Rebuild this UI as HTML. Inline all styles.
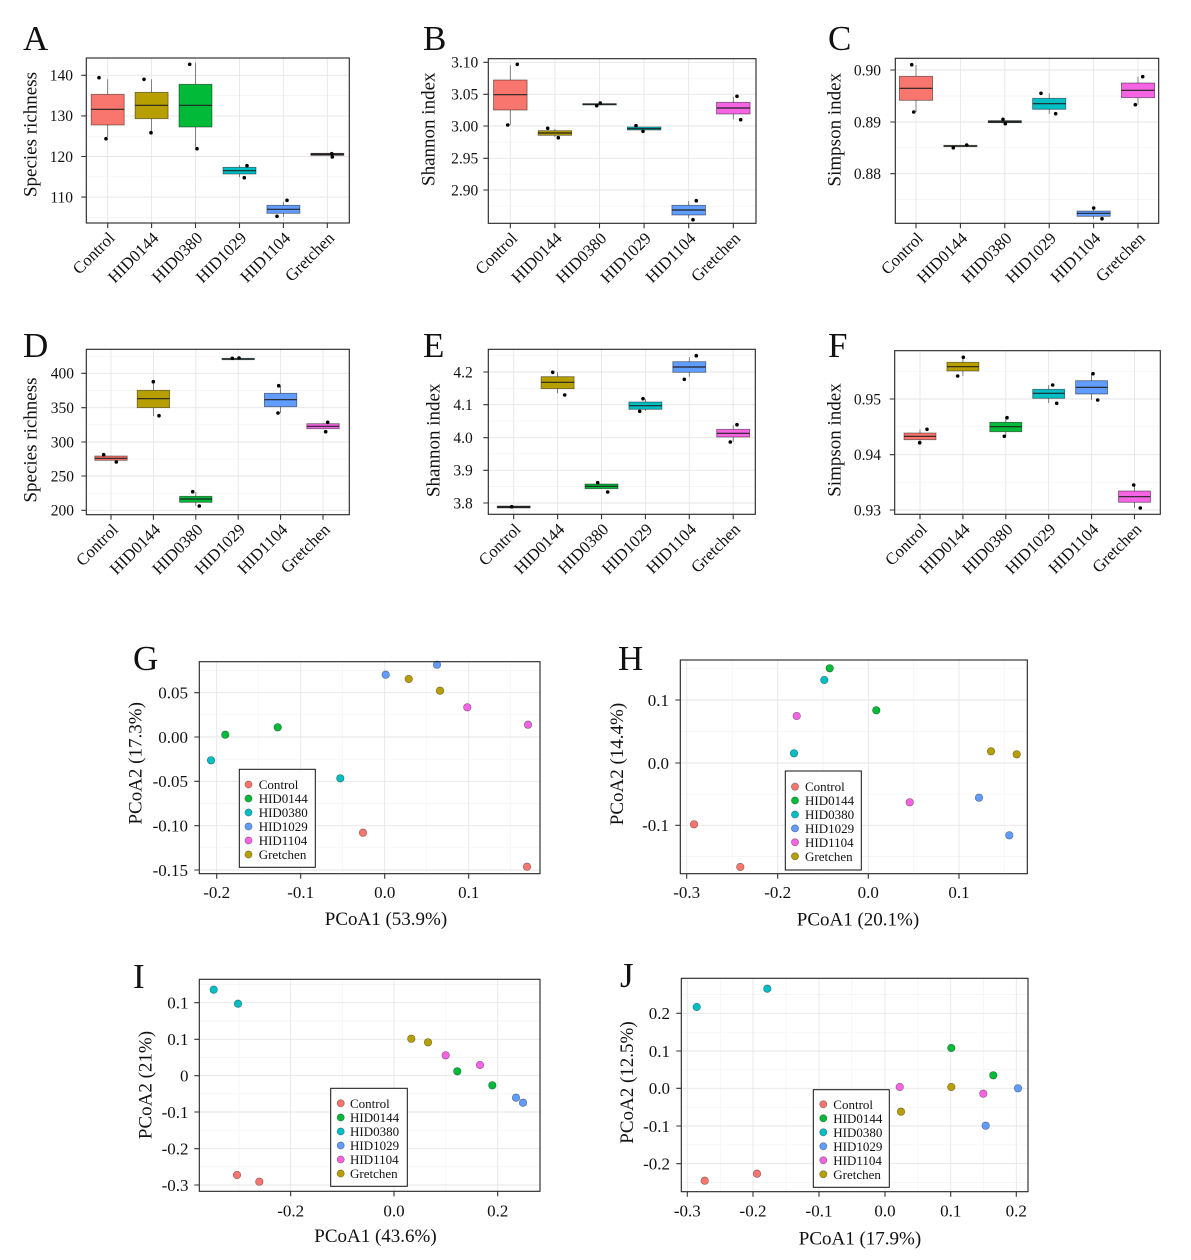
<!DOCTYPE html>
<html><head><meta charset="utf-8"><style>
html,body{margin:0;padding:0;background:#fff}
svg{display:block}
text{font-family:"Liberation Serif","Times New Roman",serif;fill:#111}
.mj{stroke:#e6e6e6;stroke-width:0.9;fill:none}
.mn{stroke:#f3f3f3;stroke-width:0.7;fill:none}
.bd{fill:none;stroke:#222;stroke-width:1.1}
.tk{stroke:#333;stroke-width:1.1;fill:none}
.yt{font-size:15.5px;text-anchor:end}
.xl{font-size:16.8px;text-anchor:end}
.ti{font-size:19px;text-anchor:middle}
.lab{font-size:35px}
.wh{stroke:#666;stroke-width:0.8;fill:none}
.bx{stroke:rgba(0,0,0,0.5);stroke-width:0.8}
.md{stroke:#222;stroke-width:1.2}
.sc{stroke:rgba(0,0,0,0.45);stroke-width:0.6}
.lg{font-size:13px}
.pyt{font-size:17px;text-anchor:end}
.pxt{font-size:17px;text-anchor:middle}
</style></head><body>
<svg width="1191" height="1260" viewBox="0 0 1191 1260" xmlns="http://www.w3.org/2000/svg">
<rect width="1191" height="1260" fill="#fff"/>

<!-- ================= A ================= -->
<path class="mn" d="M86.3 95.6H349.3M86.3 136.2H349.3M86.3 176.8H349.3M86.3 217.4H349.3"/>
<path class="mj" d="M86.3 75.3H349.3M86.3 115.9H349.3M86.3 156.5H349.3M86.3 197.1H349.3M107.7 58V223M151.6 58V223M195.5 58V223M239.5 58V223M283.4 58V223M327.3 58V223"/>
<path class="wh" d="M107.7 79.3V94.3M107.7 125V137M151.6 79.3V92.3M151.6 118.7V131M195.5 62.7V84.3M195.5 127V147M239.5 165V167.3M239.5 174V177M283.4 201.7V205.3M283.4 213.3V217"/>
<rect class="bx" x="91.2" y="94.3" width="33" height="30.7" fill="#F8766D"/>
<rect class="bx" x="135.1" y="92.3" width="33" height="26.4" fill="#B79F00"/>
<rect class="bx" x="179" y="84.3" width="33" height="42.7" fill="#00BA38"/>
<rect class="bx" x="223" y="167.3" width="33" height="6.7" fill="#00BFC4"/>
<rect class="bx" x="266.9" y="205.3" width="33" height="8" fill="#619CFF"/>
<rect class="bx" x="310.8" y="153.3" width="33" height="2" fill="#F564E3"/>
<path class="md" d="M91.2 109.3H124.2M135.1 105.3H168.1M179 105.3H212M223 170.7H256M266.9 209.3H299.9"/>
<path stroke="#222" stroke-width="2.2" d="M310.8 154.3H343.8"/>
<g fill="#000"><circle cx="99" cy="77.7" r="1.8"/><circle cx="106" cy="138.7" r="1.8"/><circle cx="144" cy="79.3" r="1.8"/><circle cx="151" cy="132.7" r="1.8"/><circle cx="189.7" cy="64.3" r="1.8"/><circle cx="197" cy="148.7" r="1.8"/><circle cx="247" cy="165.7" r="1.8"/><circle cx="244.3" cy="177.7" r="1.8"/><circle cx="287" cy="200.3" r="1.8"/><circle cx="277" cy="216.3" r="1.8"/><circle cx="331.7" cy="153.7" r="1.8"/><circle cx="332.3" cy="157" r="1.8"/></g>
<rect class="bd" x="86.3" y="58" width="263" height="165"/>
<path class="tk" d="M81.3 75.3H86.3M81.3 115.9H86.3M81.3 156.5H86.3M81.3 197.1H86.3M107.7 223V228M151.6 223V228M195.5 223V228M239.5 223V228M283.4 223V228M327.3 223V228"/>
<text class="yt" x="73" y="80.6">140</text><text class="yt" x="73" y="121.2">130</text><text class="yt" x="73" y="161.8">120</text><text class="yt" x="73" y="202.4">110</text>
<text class="xl" x="115.7" y="239" transform="rotate(-45 115.7 239)">Control</text>
<text class="xl" x="159.6" y="239" transform="rotate(-45 159.6 239)">HID0144</text>
<text class="xl" x="203.5" y="239" transform="rotate(-45 203.5 239)">HID0380</text>
<text class="xl" x="247.5" y="239" transform="rotate(-45 247.5 239)">HID1029</text>
<text class="xl" x="291.4" y="239" transform="rotate(-45 291.4 239)">HID1104</text>
<text class="xl" x="335.3" y="239" transform="rotate(-45 335.3 239)">Gretchen</text>
<text class="ti" x="36.5" y="134.5" transform="rotate(-90 36.5 134.5)">Species richness</text>
<text class="lab" x="23" y="50">A</text>

<!-- ================= B ================= -->
<path class="mn" d="M488.3 78.3H756M488.3 110.2H756M488.3 142.1H756M488.3 174.1H756M488.3 206H756"/>
<path class="mj" d="M488.3 62.3H756M488.3 94.3H756M488.3 126H756M488.3 158.3H756M488.3 190H756M510.3 58.7V223.3M554.9 58.7V223.3M599.5 58.7V223.3M644.1 58.7V223.3M688.7 58.7V223.3M733.3 58.7V223.3"/>
<path class="wh" d="M510.3 65.3V80M510.3 110V125M554.9 129V130.7M554.9 135.3V137M688.7 201V205.3M688.7 215V218.3M733.3 96.7V102.3M733.3 114V119.3"/>
<rect class="bx" x="493.5" y="80" width="33.6" height="30" fill="#F8766D"/>
<rect class="bx" x="538.1" y="130.7" width="33.6" height="4.6" fill="#B79F00"/>
<rect class="bx" x="582.7" y="103.6" width="33.6" height="1.4" fill="#00BA38"/>
<rect class="bx" x="627.3" y="127" width="33.6" height="3" fill="#00BFC4" stroke="#2a5a5a"/>
<rect class="bx" x="671.9" y="205.3" width="33.6" height="9.7" fill="#619CFF"/>
<rect class="bx" x="716.5" y="102.3" width="33.6" height="11.7" fill="#F564E3"/>
<path class="md" d="M493.5 94.7H527.1M538.1 133H571.7M582.7 104.3H616.3M627.3 128.7H660.9M671.9 210H705.5M716.5 108H750.1"/>
<g fill="#000"><circle cx="517.3" cy="64.3" r="1.8"/><circle cx="507.7" cy="125" r="1.8"/><circle cx="547.7" cy="128.3" r="1.8"/><circle cx="558.3" cy="137.7" r="1.8"/><circle cx="596.7" cy="105.7" r="1.8"/><circle cx="600.3" cy="103" r="1.8"/><circle cx="636" cy="125.7" r="1.8"/><circle cx="643" cy="131.3" r="1.8"/><circle cx="696.3" cy="200.7" r="1.8"/><circle cx="693" cy="219.7" r="1.8"/><circle cx="737" cy="96.3" r="1.8"/><circle cx="740.7" cy="119.7" r="1.8"/></g>
<rect class="bd" x="488.3" y="58.7" width="267.7" height="164.6"/>
<path class="tk" d="M483.3 62.3H488.3M483.3 94.3H488.3M483.3 126H488.3M483.3 158.3H488.3M483.3 190H488.3M510.3 223.3V228.3M554.9 223.3V228.3M599.5 223.3V228.3M644.1 223.3V228.3M688.7 223.3V228.3M733.3 223.3V228.3"/>
<text class="yt" x="478.3" y="67.6">3.10</text><text class="yt" x="478.3" y="99.6">3.05</text><text class="yt" x="478.3" y="131.3">3.00</text><text class="yt" x="478.3" y="163.6">2.95</text><text class="yt" x="478.3" y="195.3">2.90</text>
<text class="xl" x="518.3" y="239.3" transform="rotate(-45 518.3 239.3)">Control</text>
<text class="xl" x="562.9" y="239.3" transform="rotate(-45 562.9 239.3)">HID0144</text>
<text class="xl" x="607.5" y="239.3" transform="rotate(-45 607.5 239.3)">HID0380</text>
<text class="xl" x="652.1" y="239.3" transform="rotate(-45 652.1 239.3)">HID1029</text>
<text class="xl" x="696.7" y="239.3" transform="rotate(-45 696.7 239.3)">HID1104</text>
<text class="xl" x="741.3" y="239.3" transform="rotate(-45 741.3 239.3)">Gretchen</text>
<text class="ti" x="434.7" y="129.2" transform="rotate(-90 434.7 129.2)">Shannon index</text>
<text class="lab" x="423" y="50">B</text>

<!-- ================= C ================= -->
<path class="mn" d="M895.3 96H1158.7M895.3 147.8H1158.7M895.3 199.6H1158.7"/>
<path class="mj" d="M895.3 70H1158.7M895.3 122H1158.7M895.3 173.7H1158.7M916 58.3V223.3M960.4 58.3V223.3M1004.8 58.3V223.3M1049.2 58.3V223.3M1093.6 58.3V223.3M1138 58.3V223.3"/>
<path class="wh" d="M916 65V76.3M916 100.3V112M1049.2 93.3V98.3M1049.2 109.3V114M1093.6 208V211M1093.6 216.3V218.7M1138 76.7V83M1138 97.7V104.7"/>
<rect class="bx" x="899.4" y="76.3" width="33.2" height="24" fill="#F8766D"/>
<rect class="bx" x="943.8" y="145.3" width="33.2" height="1.4" fill="#B79F00"/>
<rect class="bx" x="988.2" y="120.7" width="33.2" height="2" fill="#00BA38"/>
<rect class="bx" x="1032.6" y="98.3" width="33.2" height="11" fill="#00BFC4"/>
<rect class="bx" x="1077" y="211" width="33.2" height="5.3" fill="#619CFF"/>
<rect class="bx" x="1121.4" y="83" width="33.2" height="14.7" fill="#F564E3"/>
<path class="md" d="M899.4 88.3H932.6M943.8 146H977M1032.6 103.7H1065.8M1077 213.3H1110.2M1121.4 90.3H1154.6"/>
<path stroke="#222" stroke-width="2.2" d="M988.2 121.7H1021.4"/>
<g fill="#000"><circle cx="911.7" cy="64.7" r="1.8"/><circle cx="913.7" cy="112" r="1.8"/><circle cx="953.3" cy="147.7" r="1.8"/><circle cx="966.7" cy="145" r="1.8"/><circle cx="1003" cy="119.3" r="1.8"/><circle cx="1005.3" cy="123.7" r="1.8"/><circle cx="1041" cy="93.3" r="1.8"/><circle cx="1055.7" cy="113.7" r="1.8"/><circle cx="1093.7" cy="208" r="1.8"/><circle cx="1102" cy="218.7" r="1.8"/><circle cx="1142.7" cy="76.7" r="1.8"/><circle cx="1135.3" cy="104.7" r="1.8"/></g>
<rect class="bd" x="895.3" y="58.3" width="263.4" height="165"/>
<path class="tk" d="M890.3 70H895.3M890.3 122H895.3M890.3 173.7H895.3M916 223.3V228.3M960.4 223.3V228.3M1004.8 223.3V228.3M1049.2 223.3V228.3M1093.6 223.3V228.3M1138 223.3V228.3"/>
<text class="yt" x="881" y="75.3">0.90</text><text class="yt" x="881" y="127.3">0.89</text><text class="yt" x="881" y="179">0.88</text>
<text class="xl" x="924" y="239.3" transform="rotate(-45 924 239.3)">Control</text>
<text class="xl" x="968.4" y="239.3" transform="rotate(-45 968.4 239.3)">HID0144</text>
<text class="xl" x="1012.8" y="239.3" transform="rotate(-45 1012.8 239.3)">HID0380</text>
<text class="xl" x="1057.2" y="239.3" transform="rotate(-45 1057.2 239.3)">HID1029</text>
<text class="xl" x="1101.6" y="239.3" transform="rotate(-45 1101.6 239.3)">HID1104</text>
<text class="xl" x="1146" y="239.3" transform="rotate(-45 1146 239.3)">Gretchen</text>
<text class="ti" x="840.7" y="129.7" transform="rotate(-90 840.7 129.7)">Simpson index</text>
<text class="lab" x="828" y="50">C</text>

<!-- ================= D ================= -->
<path class="mn" d="M86.3 356.2H349.3M86.3 390.5H349.3M86.3 424.8H349.3M86.3 459.1H349.3M86.3 493.2H349.3"/>
<path class="mj" d="M86.3 373.3H349.3M86.3 407.7H349.3M86.3 442H349.3M86.3 476H349.3M86.3 510.3H349.3M111 349.3V514.7M153.4 349.3V514.7M195.8 349.3V514.7M238.2 349.3V514.7M280.6 349.3V514.7M323 349.3V514.7"/>
<path class="wh" d="M153.4 381.7V390.3M153.4 407.7V416M195.8 492V496.3M195.8 502.3V506M280.6 386V393.3M280.6 406.7V413"/>
<rect class="bx" x="94.8" y="456" width="32.4" height="4.3" fill="#F8766D" stroke="#6b3a36"/>
<rect class="bx" x="137.2" y="390.3" width="32.4" height="17.4" fill="#B79F00"/>
<rect class="bx" x="179.6" y="496.3" width="32.4" height="6" fill="#00BA38"/>
<rect class="bx" x="222" y="358.3" width="32.4" height="1.4" fill="#00BFC4"/>
<rect class="bx" x="264.4" y="393.3" width="32.4" height="13.4" fill="#619CFF"/>
<rect class="bx" x="306.8" y="423.7" width="32.4" height="5" fill="#F564E3"/>
<path class="md" d="M94.8 458.3H127.2M137.2 398.7H169.6M179.6 499H212M222 359H254.4M264.4 399.7H296.8M306.8 426.3H339.2"/>
<g fill="#000"><circle cx="103.7" cy="454.7" r="1.8"/><circle cx="116.3" cy="462" r="1.8"/><circle cx="153.3" cy="381.7" r="1.8"/><circle cx="159" cy="415.7" r="1.8"/><circle cx="192.7" cy="491.7" r="1.8"/><circle cx="199.3" cy="506" r="1.8"/><circle cx="232.3" cy="358.3" r="1.8"/><circle cx="239" cy="358" r="1.8"/><circle cx="278.7" cy="385.7" r="1.8"/><circle cx="278" cy="413" r="1.8"/><circle cx="327.7" cy="422.3" r="1.8"/><circle cx="325.7" cy="431.7" r="1.8"/></g>
<rect class="bd" x="86.3" y="349.3" width="263" height="165.4"/>
<path class="tk" d="M81.3 373.3H86.3M81.3 407.7H86.3M81.3 442H86.3M81.3 476H86.3M81.3 510.3H86.3M111 514.7V519.7M153.4 514.7V519.7M195.8 514.7V519.7M238.2 514.7V519.7M280.6 514.7V519.7M323 514.7V519.7"/>
<text class="yt" x="74" y="378.6">400</text><text class="yt" x="74" y="413">350</text><text class="yt" x="74" y="447.3">300</text><text class="yt" x="74" y="481.3">250</text><text class="yt" x="74" y="515.6">200</text>
<text class="xl" x="119" y="530.7" transform="rotate(-45 119 530.7)">Control</text>
<text class="xl" x="161.4" y="530.7" transform="rotate(-45 161.4 530.7)">HID0144</text>
<text class="xl" x="203.8" y="530.7" transform="rotate(-45 203.8 530.7)">HID0380</text>
<text class="xl" x="246.2" y="530.7" transform="rotate(-45 246.2 530.7)">HID1029</text>
<text class="xl" x="288.6" y="530.7" transform="rotate(-45 288.6 530.7)">HID1104</text>
<text class="xl" x="331" y="530.7" transform="rotate(-45 331 530.7)">Gretchen</text>
<text class="ti" x="36.5" y="440" transform="rotate(-90 36.5 440)">Species richness</text>
<text class="lab" x="23" y="357">D</text>

<!-- ================= E ================= -->
<path class="mn" d="M488.3 355.6H755.3M488.3 388.4H755.3M488.3 421.1H755.3M488.3 453.9H755.3M488.3 486.6H755.3"/>
<path class="mj" d="M488.3 372H755.3M488.3 404.7H755.3M488.3 437.7H755.3M488.3 470.3H755.3M488.3 503H755.3M513.7 349.3V514.3M557.6 349.3V514.3M601.5 349.3V514.3M645.4 349.3V514.3M689.3 349.3V514.3M733.2 349.3V514.3"/>
<path class="wh" d="M557.6 372V376.7M557.6 388.7V393.3M645.4 399V402M645.4 409.3V411M689.3 357.3V361.7M689.3 372.3V376.7M733.2 425V429.3M733.2 437V442"/>
<rect class="bx" x="497.2" y="506.2" width="33" height="1.6" fill="#F8766D" stroke="#333"/>
<rect class="bx" x="541.1" y="376.7" width="33" height="12" fill="#B79F00"/>
<rect class="bx" x="585" y="484" width="33" height="4.7" fill="#00BA38"/>
<rect class="bx" x="628.9" y="402" width="33" height="7.3" fill="#00BFC4"/>
<rect class="bx" x="672.8" y="361.7" width="33" height="10.6" fill="#619CFF"/>
<rect class="bx" x="716.7" y="429.3" width="33" height="7.7" fill="#F564E3"/>
<path class="md" d="M541.1 382.3H574.1M585 486.3H618M628.9 405.7H661.9M672.8 367H705.8M716.7 433.3H749.7"/>
<path stroke="#222" stroke-width="2.2" d="M497.2 507H530.2"/>
<g fill="#000"><circle cx="511.7" cy="506.7" r="1.8"/><circle cx="552.7" cy="372.3" r="1.8"/><circle cx="564.7" cy="395" r="1.8"/><circle cx="597.7" cy="482.7" r="1.8"/><circle cx="607.7" cy="492" r="1.8"/><circle cx="643" cy="398.7" r="1.8"/><circle cx="639.7" cy="411.3" r="1.8"/><circle cx="696.3" cy="355.7" r="1.8"/><circle cx="684.3" cy="379.3" r="1.8"/><circle cx="737" cy="424.7" r="1.8"/><circle cx="730.3" cy="442" r="1.8"/></g>
<rect class="bd" x="488.3" y="349.3" width="267" height="165"/>
<path class="tk" d="M483.3 372H488.3M483.3 404.7H488.3M483.3 437.7H488.3M483.3 470.3H488.3M483.3 503H488.3M513.7 514.3V519.3M557.6 514.3V519.3M601.5 514.3V519.3M645.4 514.3V519.3M689.3 514.3V519.3M733.2 514.3V519.3"/>
<text class="yt" x="472.7" y="377.3">4.2</text><text class="yt" x="472.7" y="410">4.1</text><text class="yt" x="472.7" y="443">4.0</text><text class="yt" x="472.7" y="475.6">3.9</text><text class="yt" x="472.7" y="508.3">3.8</text>
<text class="xl" x="521.7" y="530.3" transform="rotate(-45 521.7 530.3)">Control</text>
<text class="xl" x="565.6" y="530.3" transform="rotate(-45 565.6 530.3)">HID0144</text>
<text class="xl" x="609.5" y="530.3" transform="rotate(-45 609.5 530.3)">HID0380</text>
<text class="xl" x="653.4" y="530.3" transform="rotate(-45 653.4 530.3)">HID1029</text>
<text class="xl" x="697.3" y="530.3" transform="rotate(-45 697.3 530.3)">HID1104</text>
<text class="xl" x="741.2" y="530.3" transform="rotate(-45 741.2 530.3)">Gretchen</text>
<text class="ti" x="439.7" y="440.3" transform="rotate(-90 439.7 440.3)">Shannon index</text>
<text class="lab" x="423" y="357">E</text>

<!-- ================= F ================= -->
<path class="mn" d="M894.7 371.2H1160.3M894.7 426.8H1160.3M894.7 482.3H1160.3"/>
<path class="mj" d="M894.7 399H1160.3M894.7 454.7H1160.3M894.7 510H1160.3M920 350.7V514.3M962.9 350.7V514.3M1005.8 350.7V514.3M1048.7 350.7V514.3M1091.6 350.7V514.3M1134.5 350.7V514.3"/>
<path class="wh" d="M920 429.5V433M920 439.7V442.5M962.9 357.3V362.3M962.9 371V376M1005.8 418V422.3M1005.8 431.7V436.3M1048.7 385V389.3M1048.7 398.3V403.3M1091.6 373.7V380.7M1091.6 394V400M1134.5 485V491M1134.5 502.3V508"/>
<rect class="bx" x="904" y="433" width="32" height="6.7" fill="#F8766D"/>
<rect class="bx" x="946.9" y="362.3" width="32" height="8.7" fill="#B79F00"/>
<rect class="bx" x="989.8" y="422.3" width="32" height="9.4" fill="#00BA38"/>
<rect class="bx" x="1032.7" y="389.3" width="32" height="9" fill="#00BFC4"/>
<rect class="bx" x="1075.6" y="380.7" width="32" height="13.3" fill="#619CFF"/>
<rect class="bx" x="1118.5" y="491" width="32" height="11.3" fill="#F564E3"/>
<path class="md" d="M904 436.3H936M946.9 366.7H978.9M989.8 426.7H1021.8M1032.7 393.3H1064.7M1075.6 387.3H1107.6M1118.5 496.7H1150.5"/>
<g fill="#000"><circle cx="927" cy="429.3" r="1.8"/><circle cx="919.7" cy="442.7" r="1.8"/><circle cx="963.3" cy="357.3" r="1.8"/><circle cx="957.7" cy="376" r="1.8"/><circle cx="1007" cy="417.7" r="1.8"/><circle cx="1004.3" cy="436.3" r="1.8"/><circle cx="1052.7" cy="385" r="1.8"/><circle cx="1056.7" cy="403.3" r="1.8"/><circle cx="1093" cy="373.7" r="1.8"/><circle cx="1097.7" cy="400" r="1.8"/><circle cx="1133.7" cy="485" r="1.8"/><circle cx="1140.3" cy="508" r="1.8"/></g>
<rect class="bd" x="894.7" y="350.7" width="265.6" height="163.6"/>
<path class="tk" d="M889.7 399H894.7M889.7 454.7H894.7M889.7 510H894.7M920 514.3V519.3M962.9 514.3V519.3M1005.8 514.3V519.3M1048.7 514.3V519.3M1091.6 514.3V519.3M1134.5 514.3V519.3"/>
<text class="yt" x="881" y="404.3">0.95</text><text class="yt" x="881" y="460">0.94</text><text class="yt" x="881" y="515.3">0.93</text>
<text class="xl" x="928" y="530.3" transform="rotate(-45 928 530.3)">Control</text>
<text class="xl" x="970.9" y="530.3" transform="rotate(-45 970.9 530.3)">HID0144</text>
<text class="xl" x="1013.8" y="530.3" transform="rotate(-45 1013.8 530.3)">HID0380</text>
<text class="xl" x="1056.7" y="530.3" transform="rotate(-45 1056.7 530.3)">HID1029</text>
<text class="xl" x="1099.6" y="530.3" transform="rotate(-45 1099.6 530.3)">HID1104</text>
<text class="xl" x="1142.5" y="530.3" transform="rotate(-45 1142.5 530.3)">Gretchen</text>
<text class="ti" x="840.7" y="440" transform="rotate(-90 840.7 440)">Simpson index</text>
<text class="lab" x="828" y="357">F</text>

<!-- ================= G ================= -->
<path class="mn" d="M199.3 670.5H540M199.3 714.8H540M199.3 759.2H540M199.3 803.5H540M199.3 847.8H540M258.7 661.7V873.7M342.7 661.7V873.7M426.7 661.7V873.7M510.7 661.7V873.7"/>
<path class="mj" d="M199.3 692.7H540M199.3 737H540M199.3 781.3H540M199.3 825.7H540M199.3 870H540M216.7 661.7V873.7M300.7 661.7V873.7M384.7 661.7V873.7M468.7 661.7V873.7"/>
<g class="sc">
<circle cx="437" cy="664.7" r="3.8" fill="#619CFF"/><circle cx="385.7" cy="674.7" r="3.8" fill="#619CFF"/>
<circle cx="408.7" cy="679" r="3.8" fill="#B79F00"/><circle cx="440" cy="690.7" r="3.8" fill="#B79F00"/>
<circle cx="467.3" cy="707.3" r="3.8" fill="#F564E3"/><circle cx="528" cy="724.7" r="3.8" fill="#F564E3"/>
<circle cx="225.3" cy="734.7" r="3.8" fill="#00BA38"/><circle cx="277.7" cy="727.3" r="3.8" fill="#00BA38"/>
<circle cx="211" cy="760.3" r="3.8" fill="#00BFC4"/><circle cx="340.3" cy="778.3" r="3.8" fill="#00BFC4"/>
<circle cx="363" cy="832.7" r="3.8" fill="#F8766D"/><circle cx="527" cy="866.7" r="3.8" fill="#F8766D"/>
</g>
<rect x="239.3" y="769.3" width="76" height="98" fill="#fff" stroke="#111" stroke-width="1"/>
<g class="sc">
<circle cx="248.5" cy="784.5" r="3.6" fill="#F8766D"/><circle cx="248.5" cy="798.5" r="3.6" fill="#00BA38"/><circle cx="248.5" cy="812.5" r="3.6" fill="#00BFC4"/><circle cx="248.5" cy="826.5" r="3.6" fill="#619CFF"/><circle cx="248.5" cy="840.5" r="3.6" fill="#F564E3"/><circle cx="248.5" cy="854.5" r="3.6" fill="#B79F00"/>
</g>
<text class="lg" x="258.7" y="789">Control</text><text class="lg" x="258.7" y="803">HID0144</text><text class="lg" x="258.7" y="817">HID0380</text><text class="lg" x="258.7" y="831">HID1029</text><text class="lg" x="258.7" y="845">HID1104</text><text class="lg" x="258.7" y="859">Gretchen</text>
<rect class="bd" x="199.3" y="661.7" width="340.7" height="212"/>
<path class="tk" d="M194.3 692.7H199.3M194.3 737H199.3M194.3 781.3H199.3M194.3 825.7H199.3M194.3 870H199.3M216.7 873.7V878.7M300.7 873.7V878.7M384.7 873.7V878.7M468.7 873.7V878.7"/>
<text class="pyt" x="188" y="698.5">0.05</text><text class="pyt" x="188" y="742.8">0.00</text><text class="pyt" x="188" y="787.1">-0.05</text><text class="pyt" x="188" y="831.5">-0.10</text><text class="pyt" x="188" y="875.8">-0.15</text>
<text class="pxt" x="216.7" y="898">-0.2</text><text class="pxt" x="300.7" y="898">-0.1</text><text class="pxt" x="384.7" y="898">0.0</text><text class="pxt" x="468.7" y="898">0.1</text>
<text class="ti" x="141.3" y="763.3" transform="rotate(-90 141.3 763.3)">PCoA2 (17.3%)</text>
<text class="ti" x="386" y="925">PCoA1 (53.9%)</text>
<text class="lab" x="133" y="670">G</text>

<!-- ================= H ================= -->
<path class="mn" d="M680.3 668.7H1027.3M680.3 731.5H1027.3M680.3 794.2H1027.3M680.3 856.5H1027.3M732.2 660V873.7M823 660V873.7M913.7 660V873.7M1004.3 660V873.7"/>
<path class="mj" d="M680.3 700H1027.3M680.3 763H1027.3M680.3 825.3H1027.3M686.7 660V873.7M777.7 660V873.7M868.3 660V873.7M959 660V873.7"/>
<g class="sc">
<circle cx="829.7" cy="668.3" r="3.8" fill="#00BA38"/><circle cx="876.3" cy="710.3" r="3.8" fill="#00BA38"/>
<circle cx="824.3" cy="680" r="3.8" fill="#00BFC4"/><circle cx="794" cy="753.3" r="3.8" fill="#00BFC4"/>
<circle cx="796.7" cy="716" r="3.8" fill="#F564E3"/><circle cx="909.7" cy="802.3" r="3.8" fill="#F564E3"/>
<circle cx="991" cy="751.3" r="3.8" fill="#B79F00"/><circle cx="1016.7" cy="754.3" r="3.8" fill="#B79F00"/>
<circle cx="979" cy="797.7" r="3.8" fill="#619CFF"/><circle cx="1009.3" cy="835.3" r="3.8" fill="#619CFF"/>
<circle cx="694" cy="824.3" r="3.8" fill="#F8766D"/><circle cx="740.3" cy="867" r="3.8" fill="#F8766D"/>
</g>
<rect x="785.3" y="771" width="76" height="99" fill="#fff" stroke="#111" stroke-width="1"/>
<g class="sc">
<circle cx="795" cy="786.7" r="3.6" fill="#F8766D"/><circle cx="795" cy="800.5" r="3.6" fill="#00BA38"/><circle cx="795" cy="814.5" r="3.6" fill="#00BFC4"/><circle cx="795" cy="828.4" r="3.6" fill="#619CFF"/><circle cx="795" cy="842.3" r="3.6" fill="#F564E3"/><circle cx="795" cy="856.3" r="3.6" fill="#B79F00"/>
</g>
<text class="lg" x="805" y="791.2">Control</text><text class="lg" x="805" y="805">HID0144</text><text class="lg" x="805" y="819">HID0380</text><text class="lg" x="805" y="832.9">HID1029</text><text class="lg" x="805" y="846.8">HID1104</text><text class="lg" x="805" y="860.8">Gretchen</text>
<rect class="bd" x="680.3" y="660" width="347" height="213.7"/>
<path class="tk" d="M675.3 700H680.3M675.3 763H680.3M675.3 825.3H680.3M686.7 873.7V878.7M777.7 873.7V878.7M868.3 873.7V878.7M959 873.7V878.7"/>
<text class="pyt" x="669" y="705.8">0.1</text><text class="pyt" x="669" y="768.8">0.0</text><text class="pyt" x="669" y="831.1">-0.1</text>
<text class="pxt" x="686.7" y="898">-0.3</text><text class="pxt" x="777.7" y="898">-0.2</text><text class="pxt" x="868.3" y="898">0.0</text><text class="pxt" x="959" y="898">0.1</text>
<text class="ti" x="623" y="764" transform="rotate(-90 623 764)">PCoA2 (14.4%)</text>
<text class="ti" x="858" y="925.5">PCoA1 (20.1%)</text>
<text class="lab" x="618" y="670">H</text>

<!-- ================= I ================= -->
<path class="mn" d="M199.3 984.5H540M199.3 1021H540M199.3 1057.5H540M199.3 1093.9H540M199.3 1130.3H540M199.3 1166.8H540M239 979.3V1191.3M342.3 979.3V1191.3M445.8 979.3V1191.3"/>
<path class="mj" d="M199.3 1002.7H540M199.3 1039.3H540M199.3 1075.7H540M199.3 1112H540M199.3 1148.7H540M199.3 1185H540M290.7 979.3V1191.3M394 979.3V1191.3M497.7 979.3V1191.3"/>
<g class="sc">
<circle cx="213.7" cy="989.7" r="3.8" fill="#00BFC4"/><circle cx="238" cy="1003.7" r="3.8" fill="#00BFC4"/>
<circle cx="411.3" cy="1038.7" r="3.8" fill="#B79F00"/><circle cx="428" cy="1042.3" r="3.8" fill="#B79F00"/>
<circle cx="445.7" cy="1055.3" r="3.8" fill="#F564E3"/><circle cx="480" cy="1065" r="3.8" fill="#F564E3"/>
<circle cx="457.3" cy="1071.3" r="3.8" fill="#00BA38"/><circle cx="492.3" cy="1085.3" r="3.8" fill="#00BA38"/>
<circle cx="516" cy="1097.7" r="3.8" fill="#619CFF"/><circle cx="523" cy="1102.7" r="3.8" fill="#619CFF"/>
<circle cx="237" cy="1175" r="3.8" fill="#F8766D"/><circle cx="259.3" cy="1181.7" r="3.8" fill="#F8766D"/>
</g>
<rect x="330.7" y="1088.3" width="76.6" height="98" fill="#fff" stroke="#111" stroke-width="1"/>
<g class="sc">
<circle cx="340.7" cy="1103.3" r="3.6" fill="#F8766D"/><circle cx="340.7" cy="1117.5" r="3.6" fill="#00BA38"/><circle cx="340.7" cy="1131.5" r="3.6" fill="#00BFC4"/><circle cx="340.7" cy="1145.5" r="3.6" fill="#619CFF"/><circle cx="340.7" cy="1159.5" r="3.6" fill="#F564E3"/><circle cx="340.7" cy="1173.5" r="3.6" fill="#B79F00"/>
</g>
<text class="lg" x="350" y="1107.8">Control</text><text class="lg" x="350" y="1122">HID0144</text><text class="lg" x="350" y="1136">HID0380</text><text class="lg" x="350" y="1150">HID1029</text><text class="lg" x="350" y="1164">HID1104</text><text class="lg" x="350" y="1178">Gretchen</text>
<rect class="bd" x="199.3" y="979.3" width="340.7" height="212"/>
<path class="tk" d="M194.3 1002.7H199.3M194.3 1039.3H199.3M194.3 1075.7H199.3M194.3 1112H199.3M194.3 1148.7H199.3M194.3 1185H199.3M290.7 1191.3V1196.3M394 1191.3V1196.3M497.7 1191.3V1196.3"/>
<text class="pyt" x="188.5" y="1008.5">0.1</text><text class="pyt" x="188.5" y="1045.1">0.1</text><text class="pyt" x="188.5" y="1081.5">0</text><text class="pyt" x="188.5" y="1117.8">-0.1</text><text class="pyt" x="188.5" y="1154.5">-0.2</text><text class="pyt" x="188.5" y="1190.8">-0.3</text>
<text class="pxt" x="290.7" y="1216.7">-0.2</text><text class="pxt" x="394" y="1216.7">0.0</text><text class="pxt" x="497.7" y="1216.7">0.2</text>
<text class="ti" x="151.3" y="1085" transform="rotate(-90 151.3 1085)">PCoA2 (21%)</text>
<text class="ti" x="375.5" y="1242">PCoA1 (43.6%)</text>
<text class="lab" x="133" y="988">I</text>

<!-- ================= J ================= -->
<path class="mn" d="M681.3 994.5H1028M681.3 1032.2H1028M681.3 1069.7H1028M681.3 1107.2H1028M681.3 1144.9H1028M681.3 1182.5H1028M720.2 978.3V1191.7M786 978.3V1191.7M851.8 978.3V1191.7M917.9 978.3V1191.7M983.5 978.3V1191.7"/>
<path class="mj" d="M681.3 1013.3H1028M681.3 1051H1028M681.3 1088.3H1028M681.3 1126H1028M681.3 1163.7H1028M687.3 978.3V1191.7M753 978.3V1191.7M819 978.3V1191.7M885 978.3V1191.7M950.7 978.3V1191.7M1016.3 978.3V1191.7"/>
<g class="sc">
<circle cx="696.7" cy="1007" r="3.8" fill="#00BFC4"/><circle cx="767.3" cy="988.7" r="3.8" fill="#00BFC4"/>
<circle cx="951.3" cy="1048" r="3.8" fill="#00BA38"/><circle cx="993.3" cy="1075.3" r="3.8" fill="#00BA38"/>
<circle cx="899.7" cy="1087" r="3.8" fill="#F564E3"/><circle cx="983.3" cy="1093.7" r="3.8" fill="#F564E3"/>
<circle cx="951.3" cy="1087" r="3.8" fill="#B79F00"/><circle cx="901" cy="1111.7" r="3.8" fill="#B79F00"/>
<circle cx="1018" cy="1088.3" r="3.8" fill="#619CFF"/><circle cx="985.7" cy="1125.7" r="3.8" fill="#619CFF"/>
<circle cx="757" cy="1173.7" r="3.8" fill="#F8766D"/><circle cx="704.7" cy="1180.7" r="3.8" fill="#F8766D"/>
</g>
<rect x="813.3" y="1089.7" width="76" height="97.6" fill="#fff" stroke="#111" stroke-width="1"/>
<g class="sc">
<circle cx="823.3" cy="1104.3" r="3.6" fill="#F8766D"/><circle cx="823.3" cy="1118.3" r="3.6" fill="#00BA38"/><circle cx="823.3" cy="1132.3" r="3.6" fill="#00BFC4"/><circle cx="823.3" cy="1146.3" r="3.6" fill="#619CFF"/><circle cx="823.3" cy="1160.3" r="3.6" fill="#F564E3"/><circle cx="823.3" cy="1174.3" r="3.6" fill="#B79F00"/>
</g>
<text class="lg" x="833.3" y="1108.8">Control</text><text class="lg" x="833.3" y="1122.8">HID0144</text><text class="lg" x="833.3" y="1136.8">HID0380</text><text class="lg" x="833.3" y="1150.8">HID1029</text><text class="lg" x="833.3" y="1164.8">HID1104</text><text class="lg" x="833.3" y="1178.8">Gretchen</text>
<rect class="bd" x="681.3" y="978.3" width="346.7" height="213.4"/>
<path class="tk" d="M676.3 1013.3H681.3M676.3 1051H681.3M676.3 1088.3H681.3M676.3 1126H681.3M676.3 1163.7H681.3M687.3 1191.7V1196.7M753 1191.7V1196.7M819 1191.7V1196.7M885 1191.7V1196.7M950.7 1191.7V1196.7M1016.3 1191.7V1196.7"/>
<text class="pyt" x="670" y="1019.1">0.2</text><text class="pyt" x="670" y="1056.8">0.1</text><text class="pyt" x="670" y="1094.1">0.0</text><text class="pyt" x="670" y="1131.8">-0.1</text><text class="pyt" x="670" y="1169.5">-0.2</text>
<text class="pxt" x="687.3" y="1216.7">-0.3</text><text class="pxt" x="753" y="1216.7">-0.2</text><text class="pxt" x="819" y="1216.7">-0.1</text><text class="pxt" x="885" y="1216.7">0.0</text><text class="pxt" x="950.7" y="1216.7">0.1</text><text class="pxt" x="1016.3" y="1216.7">0.2</text>
<text class="ti" x="633" y="1082.5" transform="rotate(-90 633 1082.5)">PCoA2 (12.5%)</text>
<text class="ti" x="860" y="1244.3">PCoA1 (17.9%)</text>
<text class="lab" x="620" y="987">J</text>
</svg>
</body></html>
